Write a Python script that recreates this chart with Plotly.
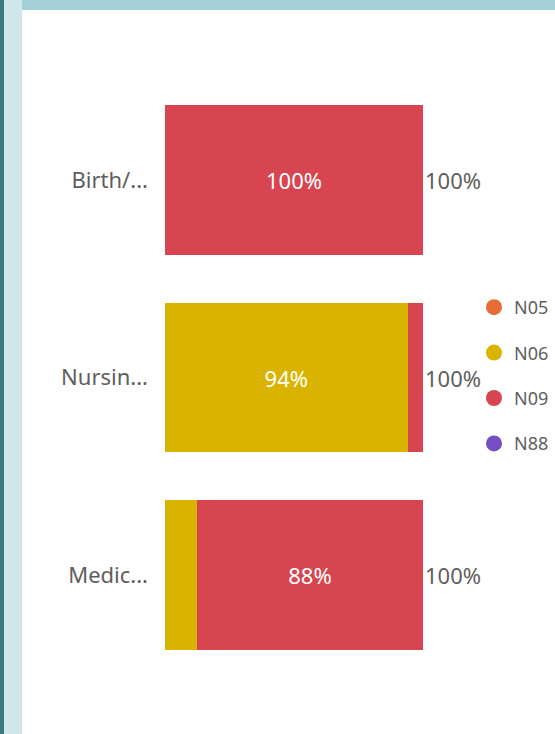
import plotly.graph_objects as go

categories = ["Birth/...", "Nursin...", "Medic..."]
series_names = ["N05", "N06", "N09", "N88"]
n05 = [0.0, 0.0, 0.0]
n06 = [0.0, 0.94, 0.124]
n09 = [1.0, 0.06, 0.876]
n88 = [0.0, 0.0, 0.0]
series_values = [n05, n06, n09, n88]
colors = ["#E66C37", "#D9B300", "#D64550", "#744EC2"]

FONT = "Noto Sans"
GRAY = "#605E5C"
LABEL_SIZE = 22

# plot area in pixels
W, H = 555, 734
L, R, T, B = 165, 423, 81, 674


def px_x(p):
    return (p - L) / (R - L)


def px_y(p):
    return (B - p) / (B - T)


fig = go.Figure()
for name, vals, col in zip(series_names, series_values, colors):
    fig.add_trace(go.Bar(
        y=categories, x=vals, orientation="h", name=name,
        marker=dict(color=col, line=dict(width=0)),
        text=[f"{round(v*100)}%" if v >= 0.2 else "" for v in vals],
        textposition="inside", insidetextanchor="middle", textangle=0,
        insidetextfont=dict(color="white", size=LABEL_SIZE, family=FONT),
        showlegend=False, hoverinfo="skip",
    ))
    fig.add_trace(go.Scatter(
        x=[None], y=[None], mode="markers", name=name,
        marker=dict(color=col, size=20, symbol="circle"),
        legendgroup=name, showlegend=True,
    ))

totals = [sum(s[i] for s in series_values) for i in range(len(categories))]
for cat, tot in zip(categories, totals):
    fig.add_annotation(x=tot, y=cat, xref="x", yref="y", text=f"{round(tot*100)}%",
                       showarrow=False, xanchor="left", xshift=0,
                       font=dict(size=LABEL_SIZE, color=GRAY, family=FONT))

shapes = [
    dict(type="rect", xref="paper", yref="paper", x0=px_x(0), x1=px_x(22), y0=px_y(H), y1=px_y(0),
         fillcolor="#D0E6EA", line=dict(width=0), layer="below"),
    dict(type="rect", xref="paper", yref="paper", x0=px_x(0), x1=px_x(4), y0=px_y(H), y1=px_y(0),
         fillcolor="#3A7A80", line=dict(width=0), layer="below"),
    dict(type="rect", xref="paper", yref="paper", x0=px_x(22), x1=px_x(W), y0=px_y(10), y1=px_y(0),
         fillcolor="#A6D1D8", line=dict(width=0), layer="below"),
]

fig.update_layout(
    width=W, height=H,
    margin=dict(l=L, r=W - R, t=T, b=H - B, pad=0, autoexpand=False),
    paper_bgcolor="white", plot_bgcolor="white",
    barmode="stack", bargap=0.242,
    font=dict(family=FONT, color=GRAY, size=LABEL_SIZE),
    xaxis=dict(range=[0, 1], visible=False, fixedrange=True),
    yaxis=dict(autorange="reversed", showgrid=False, zeroline=False, showline=False,
               ticks="", ticklabelstandoff=16, fixedrange=True,
               tickfont=dict(size=LABEL_SIZE, color=GRAY, family=FONT)),
    showlegend=True,
    legend=dict(x=px_x(474), y=px_y(289), xanchor="left", yanchor="top",
                font=dict(size=18, color=GRAY, family=FONT), tracegroupgap=19,
                bgcolor="rgba(0,0,0,0)", itemsizing="trace"),
    shapes=shapes,
)

fig.write_html("out.html", config={"displayModeBar": False},
               post_script="document.body.style.margin='0';")
